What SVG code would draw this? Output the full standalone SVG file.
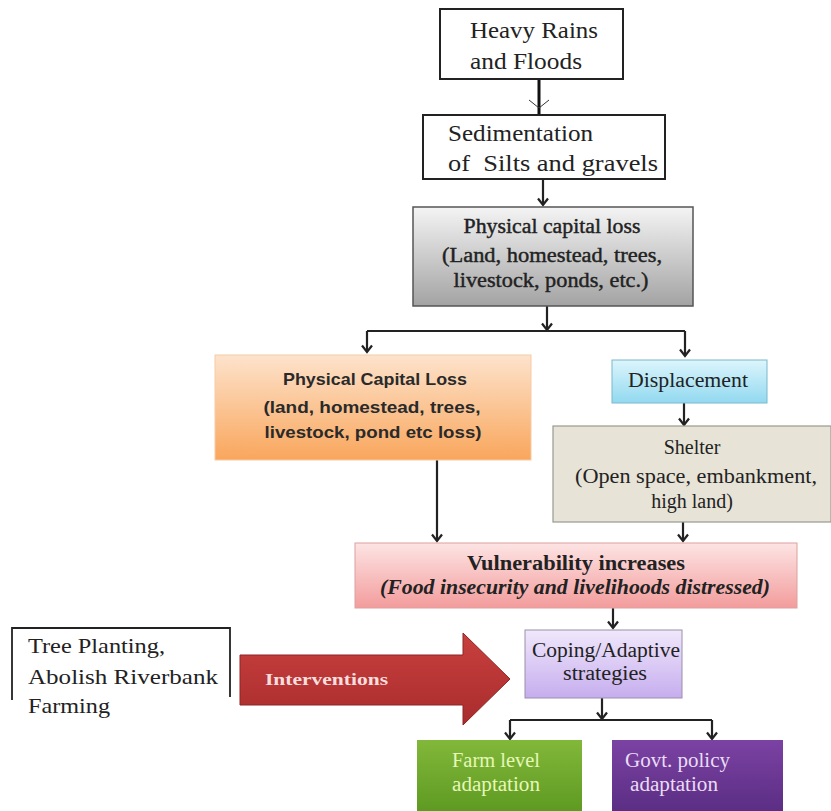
<svg xmlns="http://www.w3.org/2000/svg" width="831" height="811" viewBox="0 0 831 811">
<defs>
<linearGradient id="gGray" x1="0" y1="0" x2="0" y2="1"><stop offset="0" stop-color="#f4f4f4"/><stop offset="1" stop-color="#a3a3a3"/></linearGradient>
<linearGradient id="gOrange" x1="0" y1="0" x2="0" y2="1"><stop offset="0" stop-color="#fde3cc"/><stop offset="1" stop-color="#f9a65c"/></linearGradient>
<linearGradient id="gBlue" x1="0" y1="0" x2="0" y2="1"><stop offset="0" stop-color="#dcf5fc"/><stop offset="1" stop-color="#92d9f0"/></linearGradient>
<linearGradient id="gPink" x1="0" y1="0" x2="0" y2="1"><stop offset="0" stop-color="#fde4e4"/><stop offset="1" stop-color="#f39c9c"/></linearGradient>
<linearGradient id="gLav" x1="0" y1="0" x2="0" y2="1"><stop offset="0" stop-color="#f0e8fc"/><stop offset="1" stop-color="#c6adee"/></linearGradient>
<linearGradient id="gGreen" x1="0" y1="0" x2="0" y2="1"><stop offset="0" stop-color="#82b83a"/><stop offset="1" stop-color="#5e9a22"/></linearGradient>
<linearGradient id="gPurple" x1="0" y1="0" x2="0" y2="1"><stop offset="0" stop-color="#7b42a3"/><stop offset="1" stop-color="#5b2e84"/></linearGradient>
<linearGradient id="gRed" x1="0" y1="0" x2="0" y2="1"><stop offset="0" stop-color="#c8403f"/><stop offset="1" stop-color="#a92c2c"/></linearGradient>
<marker id="ah" markerWidth="10" markerHeight="12" viewBox="0 0 10 12" refX="8.5" refY="6" orient="auto" markerUnits="userSpaceOnUse">
<path d="M2,1 L8.5,6 L2,11" fill="none" stroke="#222" stroke-width="2.2"/>
</marker>
</defs>
<style>
.serif{font-family:"Liberation Serif","Times New Roman",serif;fill:#222}
.sans{font-family:"Liberation Sans",Arial,sans-serif;fill:#2a2a2a;font-weight:bold}
.c{text-anchor:middle}
.ln{stroke:#222;stroke-width:2.2;fill:none}
.hv{stroke:#222;stroke-width:0.4}
</style>
<rect width="831" height="811" fill="#ffffff"/>

<g id="connectors">
<line x1="539" y1="68" x2="539" y2="115" stroke="#111" stroke-width="3"/>
<path d="M529,100 L539,108 L549,100" fill="none" stroke="#333" stroke-width="1"/>
<line class="ln" x1="543" y1="179" x2="543" y2="205" marker-end="url(#ah)"/>
<line class="ln" x1="547" y1="306" x2="547" y2="330" marker-end="url(#ah)"/>
<polyline class="ln" points="367,331 685,331"/>
<line class="ln" x1="367" y1="331" x2="367" y2="352" marker-end="url(#ah)"/>
<line class="ln" x1="685" y1="331" x2="685" y2="356" marker-end="url(#ah)"/>
<line class="ln" x1="437" y1="460" x2="437" y2="541" marker-end="url(#ah)"/>
<line class="ln" x1="684" y1="403" x2="684" y2="425" marker-end="url(#ah)"/>
<line class="ln" x1="683" y1="522" x2="683" y2="541" marker-end="url(#ah)"/>
<line class="ln" x1="613" y1="608" x2="613" y2="628" marker-end="url(#ah)"/>
<line class="ln" x1="602" y1="698" x2="602" y2="719" marker-end="url(#ah)"/>
<polyline class="ln" points="510,720 712,720"/>
<line class="ln" x1="510" y1="720" x2="510" y2="739" marker-end="url(#ah)"/>
<line class="ln" x1="712" y1="720" x2="712" y2="739" marker-end="url(#ah)"/>
</g>

<g id="heavy-rains">
<rect x="440" y="9" width="183" height="70" fill="#fff" stroke="#222" stroke-width="2"/>
<text class="serif" x="470" y="38" font-size="23" textLength="128" lengthAdjust="spacingAndGlyphs">Heavy Rains</text>
<text class="serif" x="470" y="69" font-size="23" textLength="112" lengthAdjust="spacingAndGlyphs">and Floods</text>
</g>

<g id="sedimentation">
<rect x="423" y="115" width="242" height="64" fill="#fff" stroke="#222" stroke-width="2"/>
<text class="serif" x="448" y="141" font-size="23" textLength="145" lengthAdjust="spacingAndGlyphs">Sedimentation</text>
<text class="serif" x="448" y="171" font-size="23" xml:space="preserve" textLength="210" lengthAdjust="spacingAndGlyphs">of  Silts and gravels</text>
</g>

<g id="physical-capital-loss-1">
<rect x="413" y="207" width="280" height="99" fill="url(#gGray)" stroke="#555" stroke-width="1.5"/>
<text class="serif c hv" x="552" y="233" font-size="20" textLength="177" lengthAdjust="spacingAndGlyphs">Physical capital loss</text>
<text class="serif c hv" x="552" y="262" font-size="20" textLength="220" lengthAdjust="spacingAndGlyphs">(Land, homestead, trees,</text>
<text class="serif c hv" x="551" y="287" font-size="20" textLength="195" lengthAdjust="spacingAndGlyphs">livestock, ponds, etc.)</text>
</g>

<g id="physical-capital-loss-2">
<rect x="215" y="355" width="316" height="105" fill="url(#gOrange)" stroke="#f6cba5" stroke-width="1"/>
<text class="sans c" x="375" y="385" font-size="17" textLength="184" lengthAdjust="spacingAndGlyphs">Physical Capital Loss</text>
<text class="sans c" x="372" y="413" font-size="17" textLength="217" lengthAdjust="spacingAndGlyphs">(land, homestead, trees,</text>
<text class="sans c" x="373" y="438" font-size="17" textLength="217" lengthAdjust="spacingAndGlyphs">livestock, pond etc loss)</text>
</g>

<g id="displacement">
<rect x="612" y="360" width="155" height="43" fill="url(#gBlue)" stroke="#7ab8cc" stroke-width="1"/>
<text class="serif c" x="688" y="387" font-size="20" textLength="120" lengthAdjust="spacingAndGlyphs">Displacement</text>
</g>

<g id="shelter">
<rect x="553" y="426" width="278" height="96" fill="#e7e3d7" stroke="#9a9a90" stroke-width="1.2"/>
<text class="serif c" x="692" y="454" font-size="20">Shelter</text>
<text class="serif c" x="696" y="483" font-size="20" textLength="242" lengthAdjust="spacingAndGlyphs">(Open space, embankment,</text>
<text class="serif c" x="692" y="508" font-size="20">high land)</text>
</g>

<g id="vulnerability">
<rect x="355" y="543" width="442" height="65" fill="url(#gPink)" stroke="#dca0a0" stroke-width="1"/>
<text class="serif c" x="576" y="570" font-size="20" font-weight="bold" textLength="218" lengthAdjust="spacingAndGlyphs">Vulnerability increases</text>
<text class="serif c" x="575" y="594" font-size="20" font-weight="bold" font-style="italic" textLength="390" lengthAdjust="spacingAndGlyphs">(Food insecurity and livelihoods distressed)</text>
</g>

<g id="coping">
<rect x="525" y="630" width="157" height="68" fill="url(#gLav)" stroke="#9a90a8" stroke-width="1"/>
<text class="serif c" x="606" y="657" font-size="20" textLength="148" lengthAdjust="spacingAndGlyphs">Coping/Adaptive</text>
<text class="serif c" x="605" y="680" font-size="20" textLength="84" lengthAdjust="spacingAndGlyphs">strategies</text>
</g>

<g id="tree-planting">
<path d="M12,700 V628 H230 V697" fill="none" stroke="#222" stroke-width="1.8"/>
<text class="serif" x="28" y="653" font-size="22" textLength="137" lengthAdjust="spacingAndGlyphs">Tree Planting,</text>
<text class="serif" x="28" y="684" font-size="22" textLength="190" lengthAdjust="spacingAndGlyphs">Abolish Riverbank</text>
<text class="serif" x="28" y="713" font-size="22" textLength="82" lengthAdjust="spacingAndGlyphs">Farming</text>
</g>

<g id="interventions">
<path d="M240,655 H463 V633 L510,679 L463,725 V705 H240 Z" fill="url(#gRed)" stroke="#8d2424" stroke-width="1"/>
<text class="serif" x="265" y="685" font-size="17" font-weight="bold" style="fill:#f7dede" textLength="123" lengthAdjust="spacingAndGlyphs">Interventions</text>
</g>

<g id="farm-level">
<rect x="417" y="740" width="165" height="71" fill="url(#gGreen)"/>
<text class="serif" x="452" y="767" font-size="20" style="fill:#e6f7b8" textLength="88" lengthAdjust="spacingAndGlyphs">Farm level</text>
<text class="serif" x="452" y="791" font-size="20" style="fill:#e6f7b8" textLength="88" lengthAdjust="spacingAndGlyphs">adaptation</text>
</g>

<g id="govt-policy">
<rect x="612" y="740" width="171" height="71" fill="url(#gPurple)"/>
<text class="serif" x="625" y="767" font-size="20" style="fill:#eadcf4" textLength="105" lengthAdjust="spacingAndGlyphs">Govt. policy</text>
<text class="serif" x="630" y="791" font-size="20" style="fill:#eadcf4" textLength="88" lengthAdjust="spacingAndGlyphs">adaptation</text>
</g>
</svg>
